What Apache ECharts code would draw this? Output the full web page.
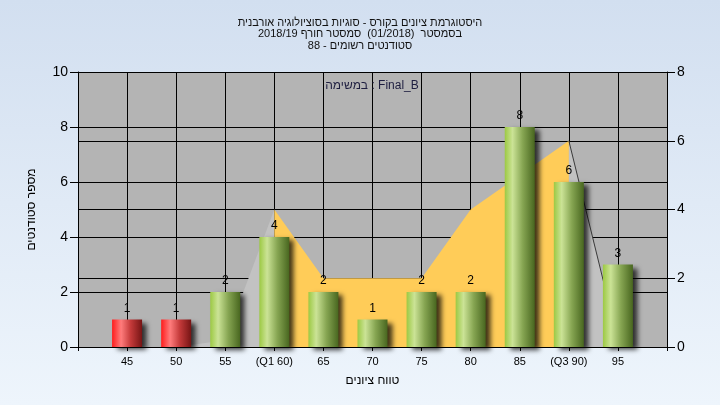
<!DOCTYPE html>
<html><head><meta charset="utf-8">
<script src="https://cdn.jsdelivr.net/npm/echarts@6/dist/echarts.min.js"></script>
<style>html,body{margin:0;padding:0;background:#fff}#c{width:720px;height:405px}</style>
</head><body><div id="c"></div>
<script>
// ---- data ----
const titleLines = [
  'היסטוגרמת ציונים בקורס - סוגיות בסוציולוגיה אורבנית',
  'בסמסטר  (01/2018)  סמסטר חורף 2018/19',
  'סטודנטים רשומים - 88'
];
const taskLabel = 'במשימה : Final_B';
const xAxisName = 'טווח ציונים';
const yAxisName = 'מספר סטודנטים';
const categories = ['45', '50', '55', '(Q1 60)', '65', '70', '75', '80', '85', '(Q3 90)', '95'];
const grades = [45, 50, 55, 60, 65, 70, 75, 80, 85, 90, 95];
const counts = [1, 1, 2, 4, 2, 1, 2, 2, 8, 6, 3];
// curve on right axis, split into: below Q1, Q1..Q3, above Q3
const curveLow  = [0, 0, 0.2, 4, null, null, null, null, null, null, null];
const curveMid  = [null, null, null, 4, 2, 2, 2, 4, 5, 6, null];
const curveHigh = [null, null, null, null, null, null, null, null, null, 6, 0.2];
const passGrade = 55;

// ---- build ----
const FONT = '"Liberation Sans", "DejaVu Sans", sans-serif';
const axisCats = [''].concat(categories).concat([' ']);
const pad = a => ['-'].concat(a.map(v => (v === null ? '-' : v))).concat(['-']);

const greenGrad = {type: 'linear', x: 0, y: 0, x2: 1, y2: 0, colorStops: [
  {offset: 0, color: '#9cc943'}, {offset: 0.26, color: '#cbe396'},
  {offset: 0.6, color: '#86a552'}, {offset: 1, color: '#48661f'}]};
const redGrad = {type: 'linear', x: 0, y: 0, x2: 1, y2: 0, colorStops: [
  {offset: 0, color: '#ff1c1c'}, {offset: 0.3, color: '#ff7c7c'},
  {offset: 0.62, color: '#c43a3a'}, {offset: 1, color: '#761414'}]};

const barData = ['-'].concat(counts.map((v, i) => ({
  value: v,
  itemStyle: {color: grades[i] < passGrade ? redGrad : greenGrad}
}))).concat(['-']);

const chart = echarts.init(document.getElementById('c'), null, {renderer: 'canvas'});
const axisLineStyle = {color: '#000', width: 1};
chart.setOption({
  animation: false,
  backgroundColor: {type: 'linear', x: 0, y: 0, x2: 0, y2: 1, colorStops: [
    {offset: 0, color: '#d2dff0'}, {offset: 1, color: '#eef5fc'}]},
  textStyle: {fontFamily: FONT},
  title: {
    text: titleLines.join('\n'),
    left: 'center', top: 12,
    textStyle: {fontSize: 11, fontWeight: 'normal', color: '#111', lineHeight: 11.5, fontFamily: FONT}
  },
  graphic: [{
    type: 'text', x: 372, y: 86, z: 100,
    style: {text: taskLabel, fontSize: 12, fill: '#1e1e40', align: 'center', verticalAlign: 'middle', fontFamily: FONT}
  }],
  grid: {left: 78, right: 53, top: 72, bottom: 58, show: true, backgroundColor: '#b4b4b4', borderWidth: 0},
  xAxis: {
    type: 'category', data: axisCats, boundaryGap: false,
    name: xAxisName, nameLocation: 'middle', nameGap: 28,
    nameTextStyle: {fontSize: 12, color: '#000', fontFamily: FONT},
    axisLine: {show: true, lineStyle: axisLineStyle},
    axisTick: {show: true, interval: 0, length: 4, lineStyle: axisLineStyle},
    axisLabel: {interval: 0, fontSize: 11, color: '#000', margin: 9, fontFamily: FONT},
    splitLine: {show: true, interval: 0, lineStyle: {color: '#000', width: 1}}
  },
  yAxis: [{
    type: 'value', min: 0, max: 10, interval: 2, position: 'left',
    name: yAxisName, nameLocation: 'middle', nameGap: 40,
    nameTextStyle: {fontSize: 12, color: '#000', fontFamily: FONT},
    axisLine: {show: true, lineStyle: axisLineStyle},
    axisTick: {show: true, length: 8, lineStyle: axisLineStyle},
    axisLabel: {fontSize: 14, color: '#000', margin: 10, fontFamily: FONT},
    splitLine: {show: true, lineStyle: {color: '#000', width: 1}}
  }, {
    type: 'value', min: 0, max: 8, interval: 2, position: 'right',
    axisLine: {show: true, lineStyle: axisLineStyle},
    axisTick: {show: true, length: 8, lineStyle: axisLineStyle},
    axisLabel: {fontSize: 14, color: '#000', margin: 10, fontFamily: FONT},
    splitLine: {show: true, lineStyle: {color: '#000', width: 1}}
  }],
  series: [{
    type: 'line', yAxisIndex: 1, data: pad(curveLow), symbol: 'none', z: 2,
    lineStyle: {width: 0, color: '#c2c2c2'},
    areaStyle: {color: '#c2c2c2', opacity: 1}
  }, {
    type: 'line', yAxisIndex: 1, data: pad(curveHigh), symbol: 'none', z: 2,
    lineStyle: {width: 1, color: '#3a3a3a'},
    areaStyle: {color: '#c2c2c2', opacity: 1}
  }, {
    type: 'line', yAxisIndex: 1, data: pad(curveMid), symbol: 'none', z: 2,
    lineStyle: {width: 0, color: '#ffcc58'},
    areaStyle: {color: '#ffcc58', opacity: 1}
  }, {
    type: 'bar', yAxisIndex: 0, data: barData, barWidth: 30, z: 3,
    itemStyle: {shadowColor: 'rgba(0,0,0,0.75)', shadowBlur: 5, shadowOffsetX: 5, shadowOffsetY: 3},
    label: {show: true, position: 'top', distance: 5, fontSize: 12, color: '#000', fontFamily: FONT}
  }]
});
</script>
</body></html>
